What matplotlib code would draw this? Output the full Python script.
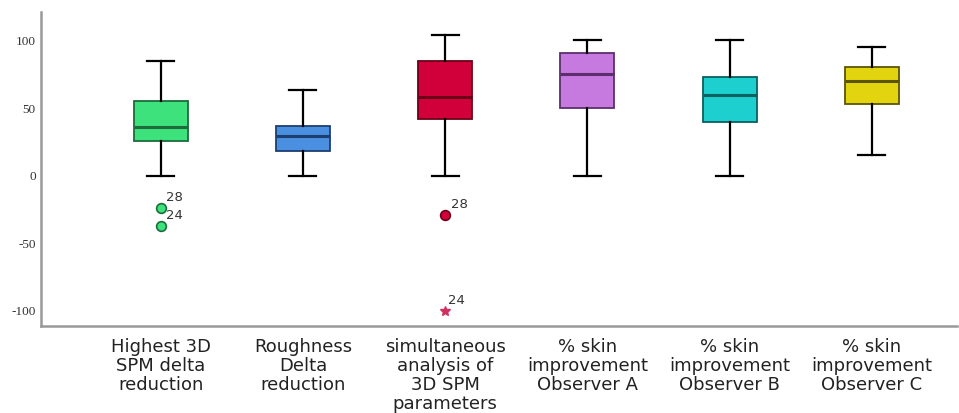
import matplotlib.pyplot as plt
import numpy as np

labels = ["Highest 3D\nSPM delta\nreduction", "Roughness\nDelta\nreduction",
          "simultaneous\nanalysis of\n3D SPM\nparameters", "% skin\nimprovement\nObserver A",
          "% skin\nimprovement\nObserver B", "% skin\nimprovement\nObserver C"]
whislo = [0, 0, 0, 0, 0, 15]
q1 = [26, 18, 42, 50, 40, 53]
med = [36, 29, 58, 75, 60, 70]
q3 = [55, 37, 85, 91, 73, 80]
whishi = [85, 63, 104, 100, 100, 95]
# outliers (circles) and extremes (stars) with case labels
outliers = [[(-24, "28"), (-37, "24")], [], [(-29, "28")], [], [], []]
extremes = [[], [], [(-100, "24")], [], [], []]

colors = ["#3ee27c", "#4a8fe0", "#d2003a", "#c67ae0", "#1ecfcf", "#e2d40e"]
edges = ["#1d6b3a", "#1d3f70", "#6a0018", "#5c2f6c", "#0c6060", "#5c5500"]

fig = plt.figure(figsize=(9.59, 4.13), dpi=100)
ax = fig.add_axes([0.043, 0.211, 0.955, 0.76])

pos = np.arange(1, 7)
stats = []
for i in range(6):
    stats.append(dict(whislo=whislo[i], q1=q1[i], med=med[i], q3=q3[i],
                      whishi=whishi[i], fliers=[]))
bp = ax.bxp(stats, positions=pos, widths=0.38, patch_artist=True, showfliers=False,
            whiskerprops=dict(color="black", lw=1.6),
            capprops=dict(color="black", lw=1.6), capwidths=0.19)
for i, b in enumerate(bp["boxes"]):
    b.set_facecolor(colors[i])
    b.set_edgecolor(edges[i])
    b.set_linewidth(1.3)
    bp["medians"][i].set_color(edges[i])
    bp["medians"][i].set_linewidth(2.2)

for i in range(6):
    for val, name in outliers[i]:
        ax.plot(pos[i], val, "o", ms=7, mfc=colors[i], mec=edges[i], mew=1.2)
        ax.annotate(name, (pos[i], val), xytext=(4, 5), textcoords="offset points",
                    fontsize=9.5, color="#333333")
    for val, name in extremes[i]:
        ax.plot(pos[i], val, "*", ms=7, color="#d03060")
        ax.annotate(name, (pos[i], val), xytext=(2, 5), textcoords="offset points",
                    fontsize=9.5, color="#333333")

ax.set_xlim(0.16, 6.6)
ax.set_ylim(-111, 121)
ax.set_yticks([-100, -50, 0, 50, 100])
ax.set_yticklabels(["-100", "-50", "0", "50", "100"], family="Liberation Serif",
                   fontsize=9.5, color="#333333")
ax.set_xticks(pos)
ax.set_xticklabels(labels, fontsize=13, family="DejaVu Sans", linespacing=1.07,
                   color="#222222")
ax.tick_params(length=0)
ax.tick_params(axis="x", pad=9)
ax.tick_params(axis="y", pad=4)
for s in ["top", "right"]:
    ax.spines[s].set_visible(False)
for s in ["left", "bottom"]:
    ax.spines[s].set_color("#999999")
    ax.spines[s].set_linewidth(1.8)

fig.savefig("out.png", dpi=100)
